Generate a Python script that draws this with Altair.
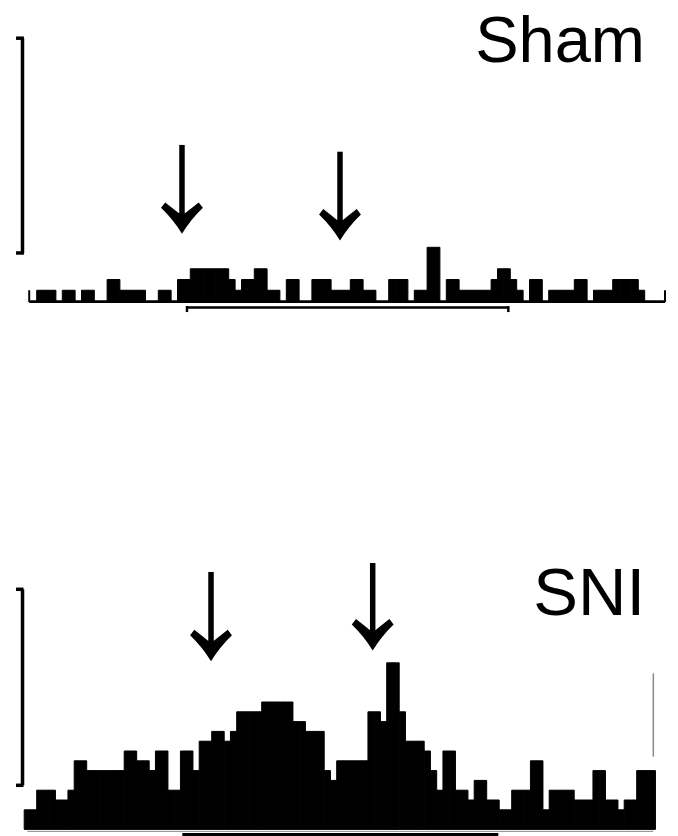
import altair as alt
import pandas as pd

# ---- data: spike counts per bin ----
sham_counts = [
    0, 1, 1, 1, 0, 1, 1, 0, 1, 1,
    0, 0, 2, 2, 1, 1, 1, 1, 0, 0,
    1, 1, 0, 2, 2, 3, 3, 3, 3, 3,
    3, 2, 1, 2, 2, 3, 3, 1, 1, 0,
    2, 2, 0, 0, 2, 2, 2, 1, 1, 1,
    2, 2, 1, 1, 0, 0, 2, 2, 2, 0,
    1, 1, 5, 5, 0, 2, 2, 1, 1, 1,
    1, 1, 2, 3, 3, 2, 1, 0, 2, 2,
    0, 1, 1, 1, 1, 2, 2, 0, 1, 1,
    1, 2, 2, 2, 2, 1, 0, 0, 0,
]
sni_counts = [
    2, 2, 4, 4, 4, 3, 3, 4, 7, 7,
    6, 6, 6, 6, 6, 6, 8, 8, 7, 7,
    6, 8, 8, 4, 4, 8, 8, 6, 9, 9,
    10, 10, 9, 10, 12, 12, 12, 12, 13, 13,
    13, 13, 13, 11, 11, 10, 10, 10, 6, 5,
    7, 7, 7, 7, 7, 12, 12, 11, 17, 17,
    12, 9, 9, 9, 8, 6, 4, 8, 8, 4,
    4, 3, 5, 5, 3, 3, 2, 2, 4, 4,
    4, 7, 7, 2, 4, 4, 4, 4, 3, 3,
    3, 6, 6, 3, 3, 2, 3, 3, 6, 6, 6,
]
panel_titles = ["Sham", "SNI"]
stim_bins = [25, 75]          # stimulation period (bins)
scale_bar_counts = 20         # calibration bar height (counts)

HEAD = ("M0,1 Q-0.42,0.32 -1,-0.24 L-0.8,-0.5 Q-0.42,-0.2 -0.14,0.02 "
        "L0.14,0.02 Q0.42,-0.2 0.8,-0.5 L1,-0.24 Q0.42,0.32 0,1 Z")


def bins_df(counts):
    return pd.DataFrame({
        "x0": list(range(len(counts))),
        "x1": [k + 1 for k in range(len(counts))],
        "count": counts,
        "base": [0] * len(counts),
    })


def panel(counts, title, xdom, ydom, height, arrows, title_pos, title_size, extras):
    X = alt.Scale(domain=xdom, nice=False, zero=False)
    Y = alt.Scale(domain=ydom, nice=False, zero=False)
    bars = alt.Chart(bins_df(counts)).mark_bar(
        color="black", stroke="black", strokeWidth=1).encode(
        x=alt.X("x0:Q", scale=X, axis=None),
        x2="x1:Q",
        y=alt.Y("count:Q", scale=Y, axis=None),
        y2="base:Q",
    )
    layers = [bars]
    shaft_rows, head_rows = [], []
    for (ax, ytop, ytip, pxu) in arrows:
        shaft_rows.append({"x": ax, "y": ytop, "y2": ytip + 18 / pxu})
        head_rows.append({"x": ax, "y": ytip + 20.5 / pxu})
    layers.append(alt.Chart(pd.DataFrame(shaft_rows)).mark_rule(
        color="black", strokeWidth=5.5, strokeCap="butt").encode(
        x=alt.X("x:Q", scale=X, axis=None),
        y=alt.Y("y:Q", scale=Y, axis=None), y2="y2:Q"))
    layers.append(alt.Chart(pd.DataFrame(head_rows)).mark_point(
        shape=HEAD, filled=True, size=1750, color="black", opacity=1,
        strokeWidth=0).encode(
        x=alt.X("x:Q", scale=X, axis=None),
        y=alt.Y("y:Q", scale=Y, axis=None)))
    layers.append(alt.Chart(pd.DataFrame([{"x": title_pos[0], "y": title_pos[1], "t": title}]))
                  .mark_text(align="right", baseline="alphabetic", font="Liberation Sans",
                             fontSize=title_size, color="black").encode(
        x=alt.X("x:Q", scale=X, axis=None),
        y=alt.Y("y:Q", scale=Y, axis=None), text="t:N"))
    for (rows, kind, style) in extras:
        df = pd.DataFrame(rows)
        if kind == "rule":
            m = alt.Chart(df).mark_rule(**style)
        else:
            m = alt.Chart(df).mark_rect(**style)
        layers.append(m.encode(
            x=alt.X("x:Q", scale=X, axis=None), x2="x2:Q",
            y=alt.Y("y:Q", scale=Y, axis=None), y2="y2:Q"))
    return alt.layer(*layers).properties(width=678, height=height)


# ---- Sham panel geometry (bins of 6.4 px from x=30.3, 10.74 px per count) ----
sw, sx0, su, sy0 = 6.4, 30.3, 10.74, 301.0
sham_xdom = [(0 - sx0) / sw, (678 - sx0) / sw]
sham_ydom = [(sy0 - 340) / su, sy0 / su]
sb_bottom = 4.47
sham_extras = [
    ([{"x": -0.17, "x2": 99.17, "y": -0.1, "y2": -0.1},
      {"x": -0.17, "x2": -0.17, "y": -0.1, "y2": 1.0},
      {"x": 99.17, "x2": 99.17, "y": -0.1, "y2": 1.0}],
     "rule", {"color": "black", "strokeWidth": 2}),
    ([{"x": stim_bins[0] - 0.52, "x2": stim_bins[1] - 0.31, "y": -0.6, "y2": -0.6},
      {"x": stim_bins[0] - 0.52, "x2": stim_bins[0] - 0.52, "y": -0.47, "y2": -1.03},
      {"x": stim_bins[1] - 0.31, "x2": stim_bins[1] - 0.31, "y": -0.47, "y2": -1.03}],
     "rule", {"color": "black", "strokeWidth": 2.5}),
    ([{"x": -1.22, "x2": -1.22, "y": sb_bottom, "y2": sb_bottom + scale_bar_counts},
      {"x": -2.23, "x2": -1.0, "y": sb_bottom, "y2": sb_bottom},
      {"x": -2.23, "x2": -1.0, "y": sb_bottom + scale_bar_counts,
       "y2": sb_bottom + scale_bar_counts}],
     "rule", {"color": "black", "strokeWidth": 3.5}),
]
sham_arrows = [(23.70, 14.53, 6.30, su), (48.39, 13.90, 5.68, su)]
sham = panel(sham_counts, panel_titles[0], sham_xdom, sham_ydom, 340,
             sham_arrows, (96.05, 22.25), 65, sham_extras)

# ---- SNI panel geometry (bins of 6.25 px from x=24.2, 9.8 px per count) ----
nw, nx0, nu, ny0 = 6.25, 24.2, 9.8, 829.4
sni_xdom = [(0 - nx0) / nw, (678 - nx0) / nw]
sni_ydom = [(ny0 - 836) / nu, (ny0 - 340) / nu]
nb_bottom = 4.5
sni_extras = [
    ([{"x": 0.49, "x2": 100.66, "y": -0.2, "y2": -0.2}],
     "rule", {"color": "#8a8a8a", "strokeWidth": 1}),
    ([{"x": stim_bins[0] + 0.3, "x2": stim_bins[1] + 0.86, "y": -0.36, "y2": sni_ydom[0]}],
     "rect", {"color": "black"}),
    ([{"x": 100.66, "x2": 100.66, "y": 7.42, "y2": 15.93}],
     "rule", {"color": "#8a8a8a", "strokeWidth": 1.5}),
    ([{"x": -0.27, "x2": -0.27, "y": nb_bottom, "y2": nb_bottom + scale_bar_counts},
      {"x": -1.31, "x2": -0.11, "y": nb_bottom, "y2": nb_bottom},
      {"x": -1.31, "x2": -0.11, "y": nb_bottom + scale_bar_counts,
       "y2": nb_bottom + scale_bar_counts}],
     "rule", {"color": "black", "strokeWidth": 3.5}),
]
sni_arrows = [(29.89, 26.27, 17.21, nu), (55.76, 27.18, 18.31, nu)]
sni = panel(sni_counts, panel_titles[1], sni_xdom, sni_ydom, 496,
            sni_arrows, (99.33, 21.88), 67, sni_extras)

chart = alt.vconcat(sham, sni, spacing=0).properties(
    padding=0, background="white"
).configure_view(strokeWidth=0)

chart.save("out.html", embed_options={"renderer": "svg", "actions": False})
